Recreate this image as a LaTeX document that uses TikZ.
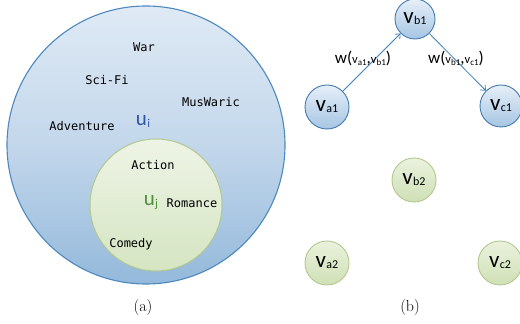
\documentclass[tikz,border=0pt]{standalone}
\usepackage{fontspec}
\setmonofont{DejaVu Sans Mono}
\newfontfamily\calib{Carlito}
\usetikzlibrary{arrows.meta, positioning}

\definecolor{setblue}{HTML}{4D88BF}
\definecolor{settop}{HTML}{DFEAF5}
\definecolor{setmid}{HTML}{C3D7EB}
\definecolor{setbot}{HTML}{94B9DB}
\definecolor{setgreen}{HTML}{B3C88E}
\definecolor{greentop}{HTML}{EEF4E6}
\definecolor{greenbot}{HTML}{D5E5C2}
\definecolor{nodetop}{HTML}{E6EFF8}
\definecolor{nodebot}{HTML}{A6C5E3}
\definecolor{gnodetop}{HTML}{EAF2DD}
\definecolor{gnodebot}{HTML}{CFE0B6}
\definecolor{ublue}{HTML}{2F56A0}
\definecolor{ugreen}{HTML}{4F8F3A}
\definecolor{arrowblue}{HTML}{3F7FB9}

% vertex label: v with subscript
\newcommand{\vname}[1]{{\calib\fontsize{23}{23}\selectfont v\kern0.3pt\raisebox{-1pt}{\fontsize{12}{12}\selectfont #1}}}
% weight label: w(v_x, v_y)
\newcommand{\wname}[2]{{\calib\fontsize{17}{17}\selectfont w(\fontsize{12.5}{12.5}\selectfont v\raisebox{-2pt}{\fontsize{9}{9}\selectfont #1}\fontsize{17}{17}\selectfont,\fontsize{12.5}{12.5}\selectfont v\raisebox{-2pt}{\fontsize{9}{9}\selectfont #2}\fontsize{17}{17}\selectfont)}}

\tikzset{
  genre/.style={font=\ttfamily\fontsize{12}{12}\selectfont},
  caption/.style={font=\rmfamily\fontsize{16}{16}\selectfont},
  vblue/.style={circle, draw=setblue!90!black, line width=0.9pt, minimum size=44pt, inner sep=0pt,
    top color=nodetop, bottom color=nodebot},
  vgreen/.style={circle, draw=setgreen, line width=0.9pt, minimum size=44pt, inner sep=0pt,
    top color=gnodetop, bottom color=gnodebot},
  edgearrow/.style={draw=arrowblue, line width=0.8pt, -{Straight Barb[length=4pt, width=7pt]}},
}

\begin{document}
\begin{tikzpicture}[x=1pt, y=1pt]
\useasboundingbox (0, 0) rectangle (520, 324);

% (a) user sets
\node[circle, draw=setblue, line width=1.1pt, minimum size=278pt, inner sep=0pt,
  top color=settop, bottom color=setbot, middle color=setmid]
  (uiset) at (146, 179) {};
\node[circle, draw=setgreen, line width=1pt, minimum size=132pt, inner sep=0pt,
  top color=greentop, bottom color=greenbot]
  (ujset) at (156, 119) {};

\node[genre] (war) at (144, 277) {War};
\node[genre] (scifi) at (107, 244) {Sci-Fi};
\node[genre] (muswaric) at (211, 222) {MusWaric};
\node[genre] (adventure) at (82, 198) {Adventure};
\node[text=ublue, font=\calib\fontsize{21}{21}\selectfont] (ui) at (143, 203)
  {u\kern0.3pt\raisebox{-2pt}{\fontsize{12}{12}\selectfont i}};
\node[genre] (action) at (153, 159) {Action};
\node[text=ugreen, font=\calib\fontsize{21}{21}\selectfont] (uj) at (151, 121)
  {u\kern0.3pt\raisebox{-2pt}{\fontsize{12}{12}\selectfont j}};
\node[genre] (romance) at (192, 121) {Romance};
\node[genre] (comedy) at (131, 80) {Comedy};
\node[caption] (capa) at (143, 16) {(a)};

% (b) vertices
\node[vblue, minimum size=40pt] (vb1) at (415, 305) {\vname{b1}};
\node[vblue] (va1) at (327, 217) {\vname{a1}};
\node[vblue, minimum size=42pt] (vc1) at (501, 218) {\vname{c1}};
\node[vgreen] (vb2) at (414, 144) {\vname{b2}};
\node[vgreen] (va2) at (327, 61) {\vname{a2}};
\node[vgreen] (vc2) at (500, 61) {\vname{c2}};

% weighted edges
\draw[edgearrow] (va1) -- (vb1);
\draw[edgearrow] (vb1) -- (vc1);
\node (wab) at (363, 266) {\wname{a1}{b1}};
\node (wbc) at (456, 266) {\wname{b1}{c1}};

\node[caption] (capb) at (410, 16) {(b)};
\end{tikzpicture}
\end{document}
